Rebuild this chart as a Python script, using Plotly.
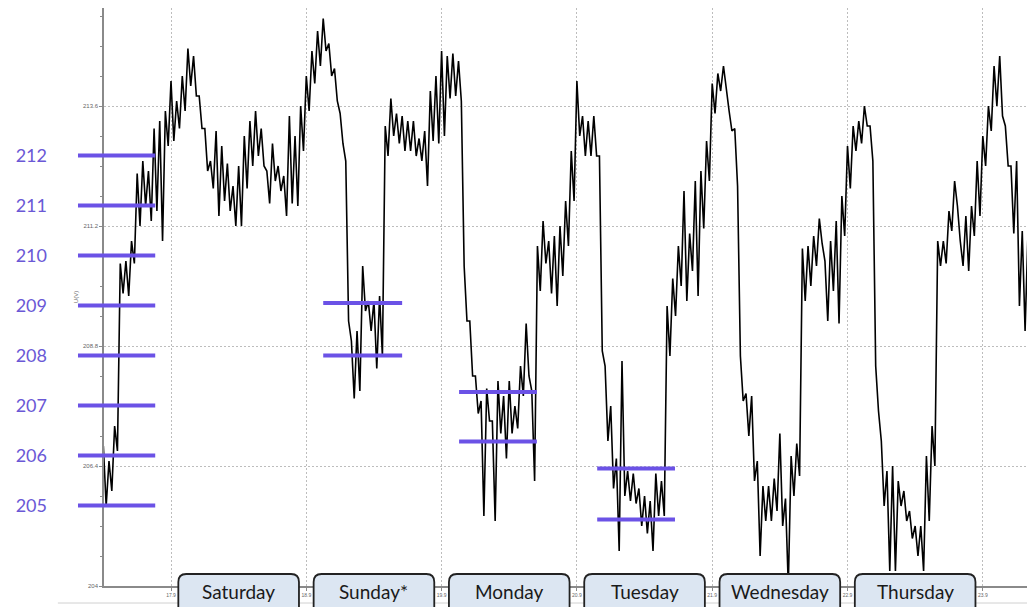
import plotly.graph_objects as go

# ---------------- data (hours relative to 17.9. 00:00) ----------------
HOUR0 = -12  # first hourly reading: 16.9. 12:00

# per-hour upper / lower edge of the noisy voltage band (V)
band_top = [
    206.8, 206.5, 207.2, 210.45, 210.5, 210.9, 212.25, 212.5, 212.3, 213.15, 213.3, 213.5,   # -12..-1
    214.1, 213.7, 214.2, 214.75, 214.6, 213.8, 213.15, 212.5, 213.1, 212.8, 212.45, 212.0,   # 0..11
    212.4, 213.0, 213.3, 213.5, 213.15, 212.3, 212.85, 212.4, 212.2, 213.4, 213.0, 213.6,    # 12..23
    214.2, 214.7, 215.1, 215.35, 214.85, 214.35, 213.45, 212.5, 208.9, 209.1, 210.4, 209.7,  # 24..35
    209.7, 209.8, 213.2, 213.75, 213.45, 213.4, 213.3, 213.3, 212.95, 213.1, 213.9, 214.2,   # 36..47
    214.7, 214.6, 214.65, 214.5, 210.4, 209.3, 208.2, 207.7, 207.95, 207.3, 208.1, 207.8,    # 48..59
    208.1, 207.6, 208.4, 209.25, 207.9, 210.8, 211.3, 210.9, 211.0, 211.2, 211.7, 212.7,     # 60..71
    214.1, 213.4, 213.3, 213.4, 212.6, 208.4, 207.6, 206.55, 208.5, 206.3, 206.25, 205.95,   # 72..83
    205.8, 205.7, 206.25, 206.1, 209.6, 210.15, 210.8, 211.9, 211.05, 212.1, 212.3, 212.9,   # 84..95
    214.05, 214.25, 214.4, 213.5, 213.15, 208.6, 207.85, 207.8, 206.5, 206.0, 206.0, 206.15, # 96..107
    207.05, 205.75, 206.6, 206.85, 210.75, 210.8, 211.0, 211.35, 210.5, 210.9, 211.3, 211.8, # 108..119
    212.8, 213.2, 213.3, 213.6, 213.2, 208.4, 206.9, 206.3, 206.4, 206.1, 205.9, 205.5,      # 120..131
    205.2, 205.2, 206.6, 207.2, 210.9, 210.9, 211.5, 212.1, 210.9, 211.4, 211.6, 212.5,      # 132..143
    213.0, 213.6, 214.4, 214.6, 213.2, 212.4, 212.5, 211.1, 211.0, 207.15,                   # 144..153
]
band_bottom = [
    205.6, 205.9, 206.7, 209.85, 209.8, 210.45, 211.2, 211.6, 211.3, 211.5, 210.9, 212.8,
    212.9, 213.15, 213.5, 214.0, 213.8, 213.15, 212.3, 211.95, 211.4, 211.7, 211.5, 211.2,
    211.2, 211.95, 212.4, 212.6, 212.4, 211.65, 212.1, 211.9, 211.4, 211.65, 211.6, 212.7,
    213.5, 214.05, 214.4, 214.7, 214.2, 213.7, 212.85, 209.3, 207.75, 207.9, 209.5, 209.1,
    208.35, 208.6, 212.6, 213.0, 212.85, 212.7, 212.7, 212.6, 212.5, 212.0, 212.9, 212.85,
    213.0, 213.75, 213.8, 213.7, 209.3, 208.2, 207.45, 205.4, 207.3, 205.3, 207.05, 206.55,
    207.05, 207.15, 207.8, 208.2, 206.1, 209.9, 210.45, 209.85, 209.6, 210.2, 210.8, 211.7,
    213.0, 212.6, 212.6, 212.6, 208.7, 206.9, 205.95, 204.7, 205.8, 205.7, 205.65, 205.2,
    205.05, 204.7, 205.4, 205.4, 208.6, 209.4, 210.0, 209.7, 210.3, 209.8, 211.15, 212.1,
    213.45, 213.9, 213.9, 213.1, 212.0, 207.7, 207.0, 206.1, 204.6, 205.3, 205.3, 205.5,
    205.2, 204.0, 205.8, 206.2, 209.7, 210.0, 210.4, 210.85, 209.3, 209.9, 209.25, 211.0,
    211.95, 212.7, 212.85, 213.2, 212.5, 207.5, 205.6, 204.3, 204.3, 205.6, 205.3, 204.95,
    204.6, 204.3, 205.3, 206.4, 210.4, 210.45, 211.1, 211.6, 210.4, 210.3, 211.0, 211.4,
    212.4, 213.1, 213.6, 213.4, 212.4, 211.05, 209.6, 209.1, 209.9, 206.1,
]

day_names = ["Saturday", "Sunday*", "Monday", "Tuesday", "Wednesday", "Thursday"]
day_centers = [12, 36, 60, 84, 108, 132]
date_ticks = [0, 24, 48, 72, 96, 120, 144]
date_labels = ["17.9", "18.9", "19.9", "20.9", "21.9", "22.9", "23.9"]
volt_ticks = [204, 206.4, 208.8, 211.2, 213.6]

# hand-drawn purple reference levels (purple label scale)
purple_labels = [205, 206, 207, 208, 209, 210, 211, 212]
left_span = (-16.5, -2.8)
sunday_levels, sunday_span = [209.05, 208.0], (27.0, 41.0)
monday_levels, monday_span = [207.27, 206.28], (51.1, 64.9)
tuesday_levels, tuesday_span = [205.74, 204.72], (75.6, 89.4)

# ---------------- figure ----------------
PURPLE_LINE = "#6B52E6"
PURPLE_TEXT = "#6A58D6"
GRID = "#bdbdbd"
AXIS = "#8a8a8a"

t, v = [], []
for i, (hi, lo) in enumerate(zip(band_top, band_bottom)):
    h = HOUR0 + i
    t += [h, h + 0.5]
    v += [hi, lo]

fig = go.Figure()
fig.add_trace(go.Scatter(x=t, y=v, mode="lines", line=dict(color="black", width=1.6),
                         xaxis="x", yaxis="y", showlegend=False, hoverinfo="skip"))

px_, py_ = [], []
groups = [(purple_labels, left_span), (sunday_levels, sunday_span),
          (monday_levels, monday_span), (tuesday_levels, tuesday_span)]
for levels, (a, b) in groups:
    for lv in levels:
        px_ += [a, b, None]
        py_ += [lv, lv, None]
fig.add_trace(go.Scatter(x=px_, y=py_, mode="lines", line=dict(color=PURPLE_LINE, width=4),
                         xaxis="x2", yaxis="y2", showlegend=False, hoverinfo="skip"))

# the page puts the figure 8px in from the top-left corner
W, H = 1027, 599
ML, MB = 40, 21
plot_w = W - ML
plot_h = H - MB
main_x0 = 56 / plot_w

# day boxes (rounded tabs at the bottom)
half = 10.7
rx, ry = 1.4, 8 / plot_h
ytop, ybot = 12 / plot_h, -0.08
shapes = [dict(type="line", xref="paper", yref="paper", x0=0.01, x1=1.0,
               y0=-17 / plot_h, y1=-17 / plot_h, layer="below",
               line=dict(color="#d0d0d0", width=1))]
for c in day_centers:
    x0, x1 = c - half, c + half
    path = (f"M {x0},{ybot} L {x0},{ytop - ry} Q {x0},{ytop} {x0 + rx},{ytop} "
            f"L {x1 - rx},{ytop} Q {x1},{ytop} {x1},{ytop - ry} L {x1},{ybot} Z")
    shapes.append(dict(type="path", path=path, xref="x", yref="paper", layer="above",
                       fillcolor="#DCE6F2", line=dict(color="#222222", width=1.8)))

annotations = [dict(x=c, y=-5 / plot_h, xref="x", yref="paper", text=n, showarrow=False,
                    xanchor="center", yanchor="middle",
                    font=dict(family="Lato", size=19, color="#1a1a1a"))
               for c, n in zip(day_centers, day_names)]

fig.update_layout(
    width=W, height=H, autosize=False, template="none",
    margin=dict(l=ML, r=0, t=0, b=MB, pad=0),
    paper_bgcolor="white", plot_bgcolor="rgba(0,0,0,0)",
    shapes=shapes, annotations=annotations, showlegend=False,
    xaxis=dict(domain=[main_x0, 1], range=[-11.885, 153.26], anchor="y",
               tickvals=date_ticks, ticktext=date_labels, ticks="outside", ticklen=3,
               tickcolor=AXIS, tickfont=dict(family="Liberation Sans", size=5, color="#666"),
               showgrid=True, gridcolor=GRID, griddash="2px,2px", gridwidth=1,
               showline=True, linecolor=AXIS, linewidth=1.5, zeroline=False, automargin=False),
    yaxis=dict(domain=[0, 1], range=[204, 215.56], anchor="x",
               tickvals=volt_ticks, ticktext=[f"{x:g}" for x in volt_ticks],
               ticks="outside", ticklen=3, tickcolor=AXIS,
               minor=dict(dtick=0.6, tick0=204, ticks="outside", ticklen=2, tickcolor=AXIS, showgrid=False),
               tickfont=dict(family="Liberation Sans", size=6, color="#666"),
               title=dict(text="U(V)", font=dict(family="Liberation Sans", size=6, color="#666"), standoff=4),
               showgrid=True, gridcolor=GRID, griddash="2px,2px", gridwidth=1,
               showline=True, linecolor=AXIS, linewidth=1.5, zeroline=False, automargin=False),
    xaxis2=dict(domain=[0, 1], range=[-21.82, 153.26], anchor="y2", visible=False),
    yaxis2=dict(domain=[0, 1], range=[203.388, 214.948], anchor="x2",
                tickvals=purple_labels, ticktext=[str(x) for x in purple_labels],
                ticks="", showgrid=False, showline=False, zeroline=False,
                tickfont=dict(family="Lato", size=18, color=PURPLE_TEXT), automargin=False),
)

fig.write_html("out.html")
